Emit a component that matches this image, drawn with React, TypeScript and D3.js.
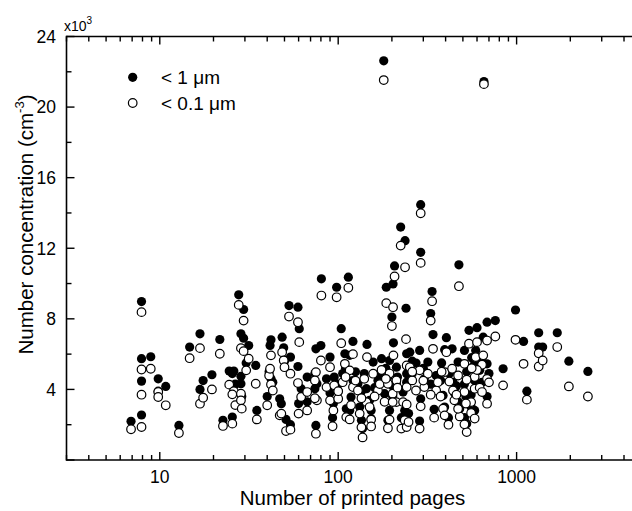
import React from "react";
import * as d3 from "d3";

// Number of printed pages for each measurement
const pages: number[] = [
  6.9, 7.9, 7.9, 7.9, 7.9, 8.9, 9.8, 9.8, 10.8, 12.8,
  14.7, 16.8, 16.8, 17.5, 19.6, 21.7, 22.6, 25.5, 24.5, 26,
  25.5, 26.5, 27.7, 29.5, 28.5, 29.5, 31.5, 30.5, 28.5, 28.5,
  28.8, 34.5, 35,
  41, 42, 43, 42, 41.5, 40, 47, 48, 51, 54,
  53, 48.5, 49.5, 50, 54, 59.5, 60.5, 59.5, 62, 67,
  60, 67,
  75, 80, 74, 76, 74, 75, 80.5, 90, 86, 95,
  90, 94, 93, 104, 109, 106, 100, 111, 98, 116,
  121, 121, 118, 116, 114, 145, 129, 144, 132, 135,
  137, 157, 167, 171, 150, 153, 153, 204, 175, 194,
  190, 182, 194, 190, 224, 237, 207, 186, 203, 200,
  240, 290, 290, 212, 242, 242, 212, 231, 236, 226,
  242, 180, 202, 202,
  252, 260, 242, 248, 286, 273, 290, 286, 336, 330,
  340, 318, 304, 354, 345, 404, 395, 362, 375, 387,
  395, 415, 475, 435, 470, 440, 448, 480, 541, 600,
  510, 590, 582, 525, 510, 582, 556, 556, 525, 510,
  683, 650, 683, 621, 640, 683, 760, 840, 986, 582,
  656,
  1094, 1330, 1330, 1400, 1690, 1963, 2510, 1142,
  110, 125, 140, 100, 135, 160, 185, 215, 260, 300,
  330, 380, 420, 460, 520, 600, 640, 700, 560, 470,
];

// Number concentration of particles < 1 µm (x10^3 cm^-3)
const below1um: number[] = [
  2.19, 8.98, 5.74, 4.47, 2.55, 5.85, 4.6, 3.9, 4.17, 1.96,
  6.4, 7.15, 4.0, 4.5, 4.83, 6.83, 2.25, 2.43, 5.04, 5.04,
  4.9, 4.3, 9.36, 8.53, 7.15, 6.9, 6.49, 5.5, 4.74, 4.32,
  3.6, 5.36, 2.81,
  5.0, 4.6, 4.4, 6.81, 6.49, 3.6, 3.47, 3.19, 2.3, 2.0,
  8.75, 6.96, 6.36, 5.6, 5.83, 8.66, 7.44, 5.3, 4.04, 4.7,
  3.2, 3.3,
  6.3, 6.49, 4.9, 4.32, 4.04, 1.96, 10.27, 5.83, 4.6, 4.7,
  3.8, 3.2, 2.4, 7.44, 6.02, 4.9, 3.9, 2.9, 9.79, 5.93,
  6.72, 4.5, 3.57, 2.81, 10.36, 6.55, 4.32, 4.04, 3.0, 2.25,
  1.78, 5.55, 4.5, 4.89, 3.38, 2.81, 2.34, 6.64, 5.74, 5.64,
  4.7, 3.76, 2.81, 2.25, 13.2, 12.43, 11.0, 9.79, 9.98, 8.1,
  8.6, 14.47, 11.77, 5.26, 6.02, 4.89, 4.32, 3.85, 2.81, 2.4,
  2.3, 22.62, 4.2, 3.6,
  6.11, 4.9, 4.41, 2.63, 6.21, 5.49, 3.47, 2.21, 9.55, 8.3,
  7.11, 5.55, 4.6, 4.79, 2.87, 6.93, 6.25, 4.8, 4.51, 3.66,
  3.0, 2.4, 11.06, 6.3, 5.55, 4.4, 3.8, 2.91, 7.35, 7.5,
  6.21, 6.21, 5.45, 5.0, 4.3, 4.5, 3.7, 3.0, 2.06, 2.4,
  7.81, 6.96, 5.45, 5.08, 5.8, 3.6, 7.9, 5.17, 8.5, 2.81,
  21.45,
  6.72, 7.21, 6.4, 6.4, 7.21, 5.6, 5.02, 3.9,
  5.2, 5.0, 4.9, 4.3, 3.9, 4.1, 5.2, 4.7, 5.6, 5.2,
  4.3, 5.5, 4.9, 4.2, 3.6, 5.6, 4.4, 4.9, 5.8, 3.3,
];

// Number concentration of particles < 0.1 µm (x10^3 cm^-3)
const below01um: number[] = [
  1.74, 8.38, 5.13, 3.7, 1.87, 5.17, 3.85, 3.57, 3.1, 1.53,
  5.77, 6.34, 3.19, 3.53, 4.0, 6.02, 1.93, 2.06, 4.27, 3.9,
  3.72, 3.11, 8.79, 7.9, 6.34, 6.17, 5.74, 5.08, 3.76, 3.38,
  2.91, 4.32, 2.3,
  4.79, 4.28, 3.94, 5.93, 5.17, 3.1, 2.53, 2.63, 1.64, 1.72,
  8.13, 6.11, 5.64, 5.26, 4.89, 7.81, 6.68, 4.36, 3.57, 3.85,
  2.63, 2.81,
  4.98, 5.64, 4.51, 3.38, 3.5, 1.49, 9.32, 5.26, 4.13, 4.23,
  3.38, 2.81, 1.91, 6.62, 5.45, 4.41, 3.47, 2.43, 9.22, 5.08,
  6.0, 4.13, 3.1, 2.3, 9.76, 5.83, 3.94, 3.28, 2.63, 1.85,
  1.28, 4.89, 3.94, 4.3, 3.0, 2.29, 1.9, 5.93, 5.1, 4.9,
  4.32, 3.3, 2.29, 1.8, 12.15, 10.92, 10.4, 8.89, 8.66, 7.59,
  6.85, 13.98, 11.17, 4.51, 5.36, 4.13, 3.28, 3.28, 2.25, 1.78,
  1.87, 21.53, 3.76, 3.28,
  5.26, 4.51, 3.15, 2.15, 5.08, 3.94, 3.04, 1.78, 9.0, 7.9,
  6.3, 4.89, 4.13, 3.94, 2.4, 6.11, 4.98, 4.41, 3.6, 2.91,
  2.53, 2.0, 9.85, 5.17, 4.79, 3.94, 3.38, 2.47, 6.59, 6.68,
  5.45, 5.83, 4.7, 4.55, 3.85, 4.04, 3.28, 2.66, 1.58, 2.02,
  6.77, 5.93, 4.6, 4.1, 5.4, 3.19, 7.0, 4.23, 6.81, 2.35,
  21.3,
  5.45, 6.05, 5.3, 5.64, 6.4, 4.17, 3.6, 3.42,
  4.7, 4.5, 4.6, 3.9, 3.5, 3.6, 4.6, 4.1, 5.0, 4.5,
  3.7, 5.0, 4.45, 3.7, 3.2, 5.1, 3.85, 4.4, 5.2, 2.9,
];

const yTicks: number[] = [4, 8, 12, 16, 20, 24];
const xTickLabels: number[] = [10, 100, 1000];
const seriesNames: string[] = ["< 1 μm", "< 0.1 μm"];

const W = 632;
const H = 511;
const FONT = "'Liberation Sans', Arial, Helvetica, sans-serif";

export default function App() {
  const x = d3.scaleLog().domain([3, 5000]).range([66.5, 641.3]);
  const y = d3.scaleLinear().domain([0, 24]).range([460, 36.5]);
  const [x0, x1] = x.range();
  const [yb, yt] = y.range();

  // minor log ticks
  const minorX: number[] = [];
  for (let e = 0; e <= 3; e++) {
    for (let m = 2; m <= 9; m++) {
      const v = m * Math.pow(10, e);
      if (v >= 3 && v <= 5000) minorX.push(v);
    }
  }
  const majorY = d3.range(0, 25, 4);
  const minorY = d3.range(2, 24, 4);

  const pts = pages.map((p, i) => ({ p, a: below1um[i], b: below01um[i] }));
  const r = 4.6;

  return (
    <svg
      width={W}
      height={H}
      style={{ position: "fixed", left: 0, top: 0, background: "#fff" }}
      fontFamily={FONT}
    >
      <rect x={0} y={0} width={W} height={H} fill="#fff" />
      {/* data: filled first, open circles drawn on top */}
      <g>
        {pts.map((d, i) => (
          <circle key={"a" + i} cx={x(d.p)} cy={y(d.a)} r={r} fill="#000" />
        ))}
        {pts.map((d, i) => (
          <circle
            key={"b" + i}
            cx={x(d.p)}
            cy={y(d.b)}
            r={r - 0.3}
            fill="#fff"
            stroke="#000"
            strokeWidth={1.2}
          />
        ))}
      </g>

      {/* frame */}
      <g stroke="#000" strokeWidth={1.6} fill="none">
        <line x1={x0} x2={x1} y1={yb} y2={yb} />
        <line x1={x0} x2={x1} y1={yt} y2={yt} />
        <line x1={x0} x2={x0} y1={yt - 0.8} y2={yb + 0.8} />
        <line x1={x1} x2={x1} y1={yt} y2={yb} />
      </g>

      {/* ticks */}
      <g stroke="#000" strokeWidth={1.4}>
        {xTickLabels.map((v) => (
          <g key={"xM" + v}>
            <line x1={x(v)} x2={x(v)} y1={yb} y2={yb - 8} />
            <line x1={x(v)} x2={x(v)} y1={yt} y2={yt + 8} />
          </g>
        ))}
        {minorX.map((v) => (
          <g key={"xm" + v}>
            <line x1={x(v)} x2={x(v)} y1={yb} y2={yb - 5} />
            <line x1={x(v)} x2={x(v)} y1={yt} y2={yt + 5} />
          </g>
        ))}
        {majorY.map((v) => (
          <line key={"yM" + v} x1={x0} x2={x0 + 8} y1={y(v)} y2={y(v)} />
        ))}
        {minorY.map((v) => (
          <line key={"ym" + v} x1={x0} x2={x0 + 5} y1={y(v)} y2={y(v)} />
        ))}
      </g>

      {/* tick labels */}
      <g fontSize={17.5} fill="#000">
        {xTickLabels.map((v) => (
          <text key={"xl" + v} x={x(v)} y={483} textAnchor="middle">
            {v}
          </text>
        ))}
        {yTicks.map((v) => (
          <text key={"yl" + v} x={56} y={y(v) + 6.3} textAnchor="end">
            {v}
          </text>
        ))}
      </g>

      {/* x10^3 */}
      <text x={64} y={31} fontSize={14} fill="#000">
        x10
        <tspan fontSize={10} dy={-7}>
          3
        </tspan>
      </text>

      {/* axis titles */}
      <text x={352.5} y={505} fontSize={20.5} textAnchor="middle" fill="#000">
        Number of printed pages
      </text>
      <text
        transform="translate(33,224.5) rotate(-90)"
        fontSize={20.5}
        textAnchor="middle"
        fill="#000"
      >
        Number concentration (cm
        <tspan fontSize={13} dy={-9}>
          -3
        </tspan>
        <tspan dy={9}>)</tspan>
      </text>

      {/* legend */}
      <g>
        <circle cx={132.7} cy={77.3} r={r} fill="#000" />
        <circle cx={132.7} cy={103} r={r - 0.3} fill="#fff" stroke="#000" strokeWidth={1.2} />
        <text x={161} y={84} fontSize={19} fill="#000">
          {seriesNames[0]}
        </text>
        <text x={161} y={110} fontSize={19} fill="#000">
          {seriesNames[1]}
        </text>
      </g>
    </svg>
  );
}
